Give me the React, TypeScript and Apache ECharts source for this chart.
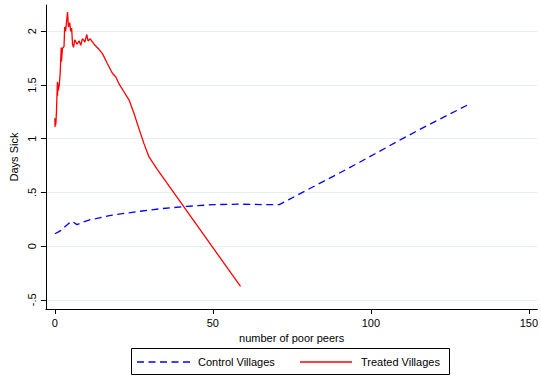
import React, { useEffect, useRef } from "react";
import * as echarts from "echarts";

// Control villages: x = number of poor peers, y = days sick
const controlX = [0, 1.0, 1.9, 3.0, 4.0, 5.1, 6.0, 7.0, 9.0, 11.0, 13.0, 17.7, 25, 33.5, 41.9, 50.3, 58.7, 66, 71.0, 74.5, 81.9, 89.3, 96.6, 103, 110.3, 117.7, 125, 131.7];
const controlY = [0.115, 0.13, 0.146, 0.175, 0.2, 0.23, 0.22, 0.2, 0.225, 0.245, 0.255, 0.286, 0.317, 0.348, 0.37, 0.386, 0.39, 0.386, 0.386, 0.44, 0.555, 0.668, 0.783, 0.887, 1.005, 1.12, 1.23, 1.33];

// Treated villages
const treatedX = [0, 0.05, 0.15, 0.3, 0.5, 0.8, 0.85, 0.9, 1.1, 1.4, 1.7, 2.0, 2.1, 2.4, 2.9, 3.1, 3.4, 3.6, 4.0, 4.3, 4.7, 5.0, 5.3, 5.6, 5.9, 6.3, 7.0, 7.7, 8.2, 8.7, 9.1, 9.5, 10.1, 10.5, 11.2, 12.4, 14.0, 15.1, 16.6, 18.2, 19.3, 20.3, 21.9, 23.5, 25.05, 26.6, 28.2, 29.8, 32.4, 58.75];
const treatedY = [1.19, 1.11, 1.17, 1.13, 1.25, 1.53, 1.4, 1.52, 1.45, 1.5, 1.62, 1.85, 1.72, 1.84, 1.86, 2.04, 2.0, 2.06, 2.18, 2.04, 2.08, 2.0, 2.03, 1.88, 1.85, 1.92, 1.88, 1.91, 1.87, 1.93, 1.92, 1.9, 1.97, 1.91, 1.93, 1.88, 1.83, 1.79, 1.7, 1.61, 1.575, 1.51, 1.435, 1.36, 1.234, 1.094, 0.954, 0.83, 0.715, -0.376];

const xTicks = [0, 50, 100, 150];
const yTicks = [-0.5, 0, 0.5, 1, 1.5, 2];

const FONT = "Liberation Sans, Arial, Helvetica, sans-serif";
const GRID_COLOR = "#e6eef0";

const zip = (xs: number[], ys: number[]) => xs.map((x, i) => [x, ys[i]]);

const fmtY = (v: number) => {
  if (Math.abs(v) < 1e-9) return "0";
  const s = String(v);
  return s.replace(/^0\./, ".").replace(/^-0\./, "-.");
};

export default function App() {
  const ref = useRef<HTMLDivElement>(null);

  useEffect(() => {
    if (!ref.current) return;
    const chart = echarts.init(ref.current, undefined, { renderer: "svg" });
    chart.setOption({
      animation: false,
      backgroundColor: "#ffffff",
      textStyle: { fontFamily: FONT },
      grid: { left: 45, right: 3, top: 5, bottom: 69, containLabel: false },
      xAxis: {
        type: "value",
        min: -2.84,
        max: 152.7,
        name: "number of poor peers",
        nameLocation: "middle",
        nameGap: 21,
        nameTextStyle: { fontSize: 11, color: "#000", fontFamily: FONT },
        axisLine: { show: true, onZero: false, lineStyle: { color: "#000", width: 1 } },
        axisTick: { show: true, length: 5, customValues: xTicks, lineStyle: { color: "#000" } },
        axisLabel: { customValues: xTicks, fontSize: 11, color: "#000", margin: 8, fontFamily: FONT },
        splitLine: { show: false },
      },
      yAxis: {
        type: "value",
        min: -0.586,
        max: 2.245,
        name: "Days Sick",
        nameLocation: "middle",
        nameGap: 22,
        nameTextStyle: { fontSize: 11, color: "#000", fontFamily: FONT },
        axisLine: { show: true, onZero: false, lineStyle: { color: "#000", width: 1 } },
        axisTick: { show: true, length: 5, customValues: yTicks, lineStyle: { color: "#000" } },
        axisLabel: {
          customValues: yTicks,
          rotate: 90,
          fontSize: 11,
          color: "#000",
          margin: 8,
          fontFamily: FONT,
          formatter: (v: number) => fmtY(v),
        },
        splitLine: { show: true, lineStyle: { color: GRID_COLOR, width: 1 } },
      },
      series: [
        {
          name: "Control Villages",
          type: "line",
          data: zip(controlX, controlY),
          symbol: "none",
          lineStyle: { color: "#0000ff", width: 1.3, type: [7, 4.5] },
          z: 3,
        },
        {
          name: "Treated Villages",
          type: "line",
          data: zip(treatedX, treatedY),
          symbol: "none",
          lineStyle: { color: "#ff0000", width: 1.3 },
          z: 4,
        },
      ],
      graphic: [
        {
          type: "rect",
          shape: { x: 131.5, y: 348.5, width: 318, height: 26 },
          style: { fill: "#fff", stroke: "#000", lineWidth: 1 },
        },
        {
          type: "line",
          shape: { x1: 137, y1: 362, x2: 190, y2: 362 },
          style: { stroke: "#0000ff", lineWidth: 1.3, lineDash: [7, 4.5] },
        },
        {
          type: "text",
          x: 198,
          y: 362,
          style: { text: "Control Villages", fontSize: 11, fill: "#000", fontFamily: FONT, verticalAlign: "middle" },
        },
        {
          type: "line",
          shape: { x1: 300, y1: 362, x2: 352, y2: 362 },
          style: { stroke: "#ff0000", lineWidth: 1.3 },
        },
        {
          type: "text",
          x: 361,
          y: 362,
          style: { text: "Treated Villages", fontSize: 11, fill: "#000", fontFamily: FONT, verticalAlign: "middle" },
        },
      ],
    });
    return () => chart.dispose();
  }, []);

  return <div ref={ref} style={{ width: 541, height: 378, position: "absolute", left: 0, top: 0 }} />;
}
